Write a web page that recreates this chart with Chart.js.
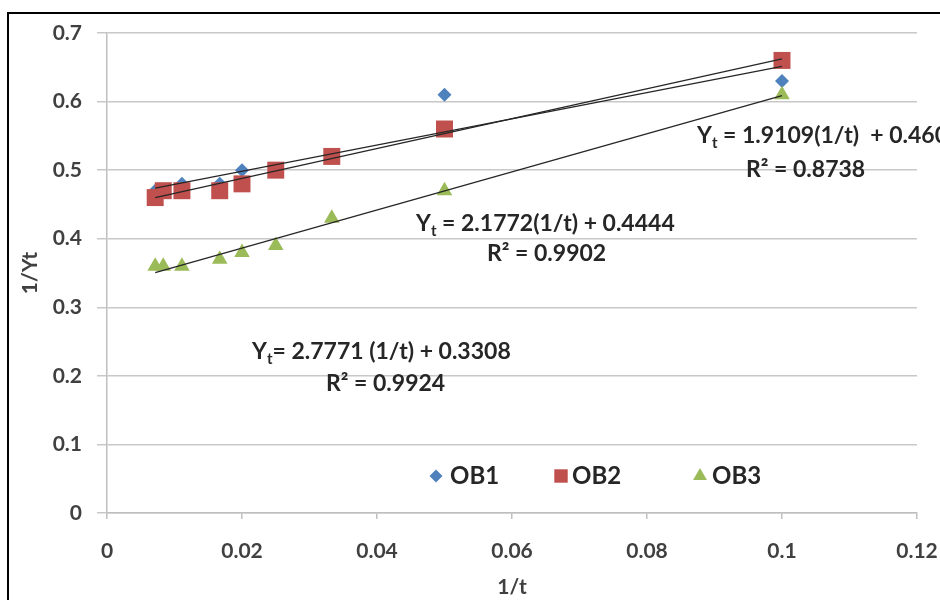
<!DOCTYPE html>
<html>
<head>
<meta charset="utf-8">
<script src="https://cdn.jsdelivr.net/npm/chart.js@4"></script>
<style>
  html, body { margin: 0; padding: 0; background: #fff; }
  #wrap { width: 940px; height: 600px; position: relative; }
</style>
</head>
<body>
<div id="wrap"><canvas id="grafico" width="940" height="600"></canvas></div>
<script>
// valores (1/t e 1/Yt)
const xVals = [0.00714, 0.00833, 0.0111, 0.0167, 0.02, 0.025, 0.0333, 0.05, 0.1];
const ob1 = [0.47, 0.47, 0.48, 0.48, 0.50, 0.50, 0.52, 0.61, 0.63];
const ob2 = [0.46, 0.47, 0.47, 0.47, 0.48, 0.50, 0.52, 0.56, 0.66];
const ob3 = [0.36, 0.36, 0.36, 0.37, 0.38, 0.39, 0.43, 0.47, 0.61];
const seriesNames = ['OB1', 'OB2', 'OB3'];

// coeficientes das linhas de tendência (como escritos no gráfico)
const slopes = [1.9109, 2.1772, 2.7771];
const intercepts = [0.4602, 0.4444, 0.3308];
const rSquared = ['0.8738', '0.9902', '0.9924'];
const trendRange = [0.00714, 0.1];

const xTicks = [0, 0.02, 0.04, 0.06, 0.08, 0.1, 0.12];
const yTicks = [0, 0.1, 0.2, 0.3, 0.4, 0.5, 0.6, 0.7];

const cores = ['#4F81BD', '#C0504D', '#9BBB59'];
const estilos = ['rectRot', 'rect', 'triangle'];
const raios = [7, 12, 9];
const FONTE = 'Lato, "Open Sans", sans-serif';

function pontos(ys) {
    return xVals.map((x, i) => ({ x: x, y: ys[i] }));
}

function tendencia(k) {
    return trendRange.map(x => ({ x: x, y: slopes[k] * x + intercepts[k] }));
}

const dadosSeries = [ob1, ob2, ob3];
const datasets = [];
dadosSeries.forEach((ys, k) => {
    datasets.push({
        label: seriesNames[k],
        data: pontos(ys),
        pointStyle: estilos[k],
        pointRadius: raios[k],
        pointHoverRadius: raios[k],
        backgroundColor: cores[k],
        borderColor: cores[k],
        borderWidth: 0,
        showLine: false,
        order: 3 - k
    });
});
dadosSeries.forEach((ys, k) => {
    datasets.push({
        label: 'trend' + k,
        data: tendencia(k),
        showLine: true,
        borderColor: '#262626',
        borderWidth: 1.3,
        pointRadius: 0,
        fill: false,
        order: 0
    });
});

// posições dos textos das equações
const equacoes = [
    { x: 697, y: 136, txt: ' = 1.9109(1/t)  + 0.4602', rx: 746, ry: 170 },
    { x: 416, y: 224, txt: ' = 2.1772(1/t) + 0.4444', rx: 487, ry: 254 },
    { x: 252, y: 352, txt: '= 2.7771 (1/t) + 0.3308', rx: 326, ry: 384 }
];

const molduraPlugin = {
    id: 'moldura',
    beforeDraw(chart) {
        const ctx = chart.ctx;
        ctx.save();
        ctx.fillStyle = '#fff';
        ctx.fillRect(0, 0, chart.width, chart.height);
        ctx.strokeStyle = '#000';
        ctx.lineWidth = 2;
        ctx.strokeRect(8, 13, chart.width + 10, chart.height + 10);
        ctx.restore();
    }
};

const textosPlugin = {
    id: 'textos',
    afterDraw(chart) {
        const ctx = chart.ctx;
        ctx.save();
        ctx.fillStyle = '#262626';
        ctx.textBaseline = 'middle';
        equacoes.forEach((e, k) => {
            ctx.font = 'bold 23px ' + FONTE;
            ctx.textAlign = 'left';
            ctx.fillText('Y', e.x, e.y);
            let w = ctx.measureText('Y').width;
            ctx.font = 'bold 15px ' + FONTE;
            ctx.fillText('t', e.x + w, e.y + 7);
            w += ctx.measureText('t').width;
            ctx.font = 'bold 23px ' + FONTE;
            ctx.fillText(e.txt, e.x + w, e.y);
            ctx.fillText('R² = ' + rSquared[k], e.rx, e.ry);
        });

        // legenda dentro da área do gráfico
        const leg = [
            { mx: 436, tx: 450, r: 6.5 },
            { mx: 561, tx: 572, r: 9.5 },
            { mx: 700, tx: 712, r: 8 }
        ];
        const ly = 476;
        leg.forEach((l, k) => {
            ctx.fillStyle = cores[k];
            Chart.helpers.drawPoint(ctx, { pointStyle: estilos[k], radius: l.r, rotation: 0, borderWidth: 0 }, l.mx, ly);
            ctx.fillStyle = '#262626';
            ctx.font = 'bold 24px ' + FONTE;
            ctx.textAlign = 'left';
            ctx.fillText(seriesNames[k], l.tx, ly);
        });
        ctx.restore();
    }
};

function rotulo(v) {
    return String(Number(v.toFixed(2)));
}

new Chart(document.getElementById('grafico'), {
    type: 'scatter',
    data: { datasets: datasets },
    options: {
        responsive: false,
        animation: false,
        events: [],
        layout: { padding: { top: 33, right: 23, left: 0, bottom: 0 } },
        plugins: {
            legend: { display: false },
            tooltip: { enabled: false }
        },
        scales: {
            x: {
                type: 'linear',
                min: 0,
                max: 0.12,
                afterFit(s) { s.height = 87; s.paddingLeft = 0; s.paddingRight = 0; },
                afterBuildTicks(s) { s.ticks = xTicks.map(v => ({ value: v })); },
                grid: { drawOnChartArea: false, drawTicks: true, tickLength: 6, color: '#bfbfbf', lineWidth: 1.5 },
                border: { color: '#bfbfbf', width: 1.5 },
                ticks: {
                    color: '#404040',
                    padding: 20,
                    maxRotation: 0,
                    font: { family: FONTE, size: 21, weight: 'bold' },
                    callback: rotulo
                },
                title: {
                    display: true,
                    text: '1/t',
                    color: '#404040',
                    font: { family: FONTE, size: 21, weight: 'bold', lineHeight: 1 },
                    padding: { top: 0, bottom: 2 }
                }
            },
            y: {
                type: 'linear',
                min: 0,
                max: 0.7,
                afterFit(s) { s.width = 107; },
                afterBuildTicks(s) { s.ticks = yTicks.map(v => ({ value: v })); },
                grid: { drawTicks: true, tickLength: 10, color: '#c8c8c8', lineWidth: 1.5 },
                border: { color: '#bfbfbf', width: 1.5 },
                ticks: {
                    color: '#404040',
                    padding: 15,
                    font: { family: FONTE, size: 21, weight: 'bold' },
                    callback: rotulo
                },
                title: {
                    display: true,
                    text: '1/Yt',
                    color: '#404040',
                    font: { family: FONTE, size: 21, weight: 'bold', lineHeight: 1 },
                    padding: { top: 20, bottom: 0 }
                }
            }
        }
    },
    plugins: [molduraPlugin, textosPlugin]
});
</script>
</body>
</html>
